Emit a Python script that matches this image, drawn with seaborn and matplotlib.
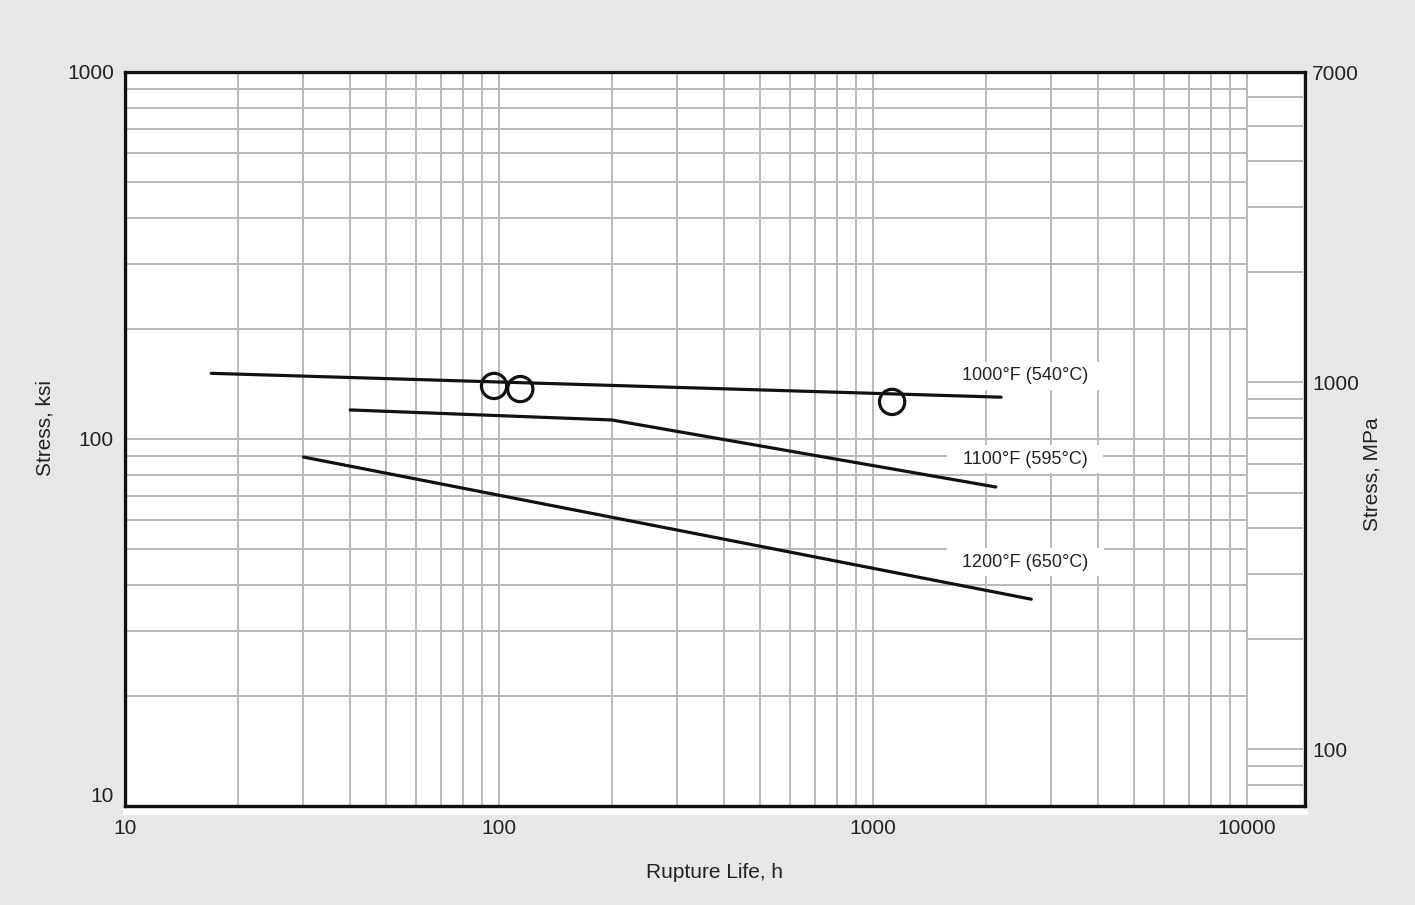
import matplotlib
matplotlib.use("Agg")
import matplotlib.pyplot as plt
import numpy as np
import pandas as pd
import seaborn as sns
from matplotlib.patches import Rectangle
from matplotlib.ticker import FixedLocator, NullLocator, FixedFormatter

# Stress-rupture curves: rupture life (h) vs stress (ksi)
life_1000F = [17, 2200]
stress_1000F = [151, 130]
life_1100F = [40, 200, 2130]
stress_1100F = [120, 112.7, 74]
life_1200F = [30, 2650]
stress_1200F = [89.3, 36.6]

# Individual test results at 1000°F
test_life = [97, 114, 1125]
test_stress = [139.5, 136.8, 126.2]

curve_labels = ["1000°F (540°C)", "1100°F (595°C)", "1200°F (650°C)"]

x_ticks = [10, 100, 1000, 10000]
ksi_ticks = [10, 100, 1000]
mpa_ticks = [100, 1000, 7000]
mpa_grid = [80, 90, 100, 200, 300, 400, 500, 600, 700, 800, 900,
            1000, 2000, 3000, 4000, 5000, 6000]

BG = "#e6e7e9"
GRID = "#bdb8b5"
INK = "#111111"
TEXT = "#222222"
FS = 15

sns.set_theme(style="white")
plt.rcParams["font.family"] = ["Liberation Sans", "DejaVu Sans"]

curves = pd.concat([
    pd.DataFrame({"life": life_1000F, "stress": stress_1000F, "curve": curve_labels[0]}),
    pd.DataFrame({"life": life_1100F, "stress": stress_1100F, "curve": curve_labels[1]}),
    pd.DataFrame({"life": life_1200F, "stress": stress_1200F, "curve": curve_labels[2]}),
], ignore_index=True)
tests = pd.DataFrame({"life": test_life, "stress": test_stress})

fig = plt.figure(figsize=(14.15, 9.05), dpi=100)
fig.patch.set_facecolor(BG)
ax = fig.add_axes([125 / 1415, 1 - 806 / 905, 1180 / 1415, 734 / 905])

# white card behind the plotting area
pos = ax.get_position()
fig.patches.append(Rectangle((pos.x0 - 2 / 1415, pos.y0 - 9 / 905),
                             pos.width + 5 / 1415, pos.height + 11 / 905,
                             transform=fig.transFigure, facecolor="white",
                             edgecolor="none", zorder=-5))
ax.set_facecolor("white")

ax.set_xscale("log")
ax.set_yscale("log")
x_max = 10 ** (1 + 1180 / 374)
ax.set_xlim(10, x_max)
ax.set_ylim(10, 1000)

# log grid, limited to the 10-10000 h range
x_grid = [k * 10 ** e for e in range(1, 4) for k in range(1, 10)] + [10000]
y_grid = [k * 10 ** e for e in range(1, 3) for k in range(1, 10)] + [1000]
ax.vlines(x_grid, 10, 1000, color=GRID, lw=1.4, zorder=1)
ax.hlines(y_grid, 10, 10000, color=GRID, lw=1.4, zorder=1)

sns.lineplot(data=curves, x="life", y="stress", units="curve", estimator=None,
             sort=False, color=INK, lw=2.3, ax=ax, zorder=4, legend=False)
sns.scatterplot(data=tests, x="life", y="stress", marker="o", s=330,
                facecolor="none", edgecolor=INK, linewidth=2.3, ax=ax, zorder=5)

label_pos = [(2550, 148.5), (2550, 88.2), (2550, 46.2)]
for (lx, ly), txt in zip(label_pos, curve_labels):
    ax.text(lx, ly, "  " + txt + "  ", ha="center", va="center", fontsize=13,
            color=TEXT, zorder=3,
            bbox=dict(boxstyle="square,pad=0.3", facecolor="white",
                      edgecolor="none"))

ax.xaxis.set_major_locator(FixedLocator(x_ticks))
ax.xaxis.set_major_formatter(FixedFormatter([str(v) for v in x_ticks]))
ax.xaxis.set_minor_locator(NullLocator())
ax.yaxis.set_major_locator(FixedLocator(ksi_ticks))
ax.yaxis.set_major_formatter(FixedFormatter([str(v) for v in ksi_ticks]))
ax.yaxis.set_minor_locator(NullLocator())
ax.tick_params(axis="both", length=0, labelsize=FS, labelcolor=TEXT)
ax.tick_params(axis="x", pad=9)
ax.tick_params(axis="y", pad=8)

ax.set_xlabel("Rupture Life, h", fontsize=FS, color=TEXT)
ax.set_ylabel("Stress, ksi", fontsize=FS, color=TEXT)
ax.xaxis.set_label_coords(0.5, -0.077)
ax.yaxis.set_label_coords(-0.060, 0.515)

# secondary stress scale in MPa
ax2 = ax.twinx()
ax2.set_yscale("log")
ax2.set_ylim(70, 7000)
ax2.hlines(mpa_grid, 10000, x_max * 0.985, color=GRID, lw=1.4, zorder=1)
ax2.yaxis.set_major_locator(FixedLocator(mpa_ticks))
ax2.yaxis.set_major_formatter(FixedFormatter([str(v) for v in mpa_ticks]))
ax2.yaxis.set_minor_locator(NullLocator())
ax2.tick_params(axis="y", length=0, labelsize=FS, labelcolor=TEXT, pad=5)
ax2.set_ylabel("Stress, MPa", fontsize=FS, color=TEXT)
ax2.yaxis.set_label_coords(1.049, 0.452)
ax2.set_xlim(10, x_max)

for a in (ax, ax2):
    for sp in a.spines.values():
        sp.set_visible(True)
        sp.set_color(INK)
        sp.set_linewidth(2.3)

for lab in ax.get_yticklabels():
    if lab.get_text() == "10":
        lab.set_va("bottom")

fig.savefig("out.png", dpi=100, facecolor=BG)
